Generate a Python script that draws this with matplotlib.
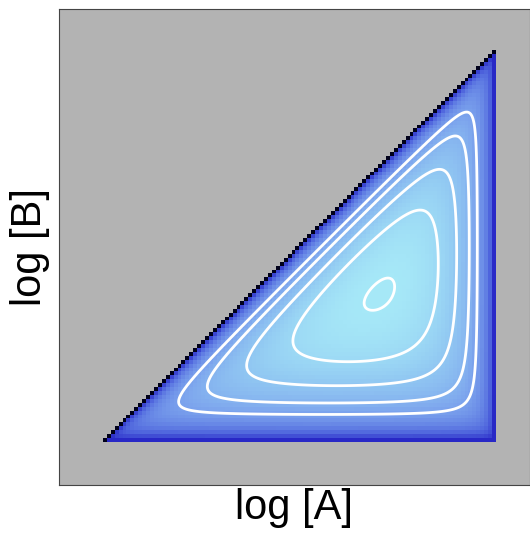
import numpy as np
import matplotlib
matplotlib.use('Agg')
import matplotlib.pyplot as plt
from matplotlib.colors import LinearSegmentedColormap

# log[A] (u) and log[B] (v) on [0, 1], field lives where v <= u
n_cells = 100
edge_weights = [1.2, 1.0, 1.5]      # weights of the diagonal, right and bottom edges
edge_power = 1.5
level_frac = [0.342, 0.468, 0.634, 0.811, 0.991]   # contour levels, fraction of max
cmap_pos = [0.0, 0.33, 0.70, 0.88, 1.0]
cmap_colors = ['#2828c6', '#4d62dc', '#7ca4ed', '#92c9f2', '#a6e8f7']
log_min = -3.3
diag_color = '#00001a'
bg_color = '#b3b3b3'


def field(u, v):
    d1 = u - v
    d2 = 1 - u
    d3 = v
    p = edge_power
    with np.errstate(divide='ignore', invalid='ignore'):
        s = ((edge_weights[0] / d1)**p + (edge_weights[1] / d2)**p
             + (edge_weights[2] / d3)**p)**(1 / p)
        h = np.where((d1 > 0) & (d2 > 0) & (d3 > 0), 1.0 / s, 0.0)
    return h


edges = np.linspace(0, 1, n_cells + 1)
centres = 0.5 * (edges[:-1] + edges[1:])
U, V = np.meshgrid(centres, centres)
h = field(U, V)

fine = np.linspace(0, 1, 600)
UF, VF = np.meshgrid(fine, fine)
hf = field(UF, VF)
hmax = hf.max()

with np.errstate(divide='ignore'):
    z = np.log(h / hmax)
z = np.where(np.isinf(z), -50, np.maximum(z, log_min + 1e-6))
z = np.ma.masked_where(V > U, z)

cmap = LinearSegmentedColormap.from_list('tri', list(zip(cmap_pos, cmap_colors)))
cmap.set_under(diag_color)

plt.rcParams['font.family'] = ['Liberation Sans', 'DejaVu Sans']
fig = plt.figure(figsize=(5.30, 5.35), dpi=100)
ax = fig.add_axes([0.111, 0.0935, 0.889, 0.8895])
ax.set_facecolor(bg_color)
ax.pcolormesh(edges, edges, z, cmap=cmap, vmin=log_min, vmax=0.0)
hf_m = np.ma.masked_where(VF > UF, hf / hmax)
ax.contour(UF, VF, hf_m, levels=level_frac, colors='white', linewidths=2)
ax.set_xlim(-0.112, 1.0865)
ax.set_ylim(-0.1097, 1.1046)
ax.set_xticks([])
ax.set_yticks([])
for s in ax.spines.values():
    s.set_color('#444444')
ax.set_xlabel('log [A]', fontsize=30, labelpad=2)
ax.set_ylabel('log [B]', fontsize=30, labelpad=6)
fig.savefig('out.png', dpi=100)
